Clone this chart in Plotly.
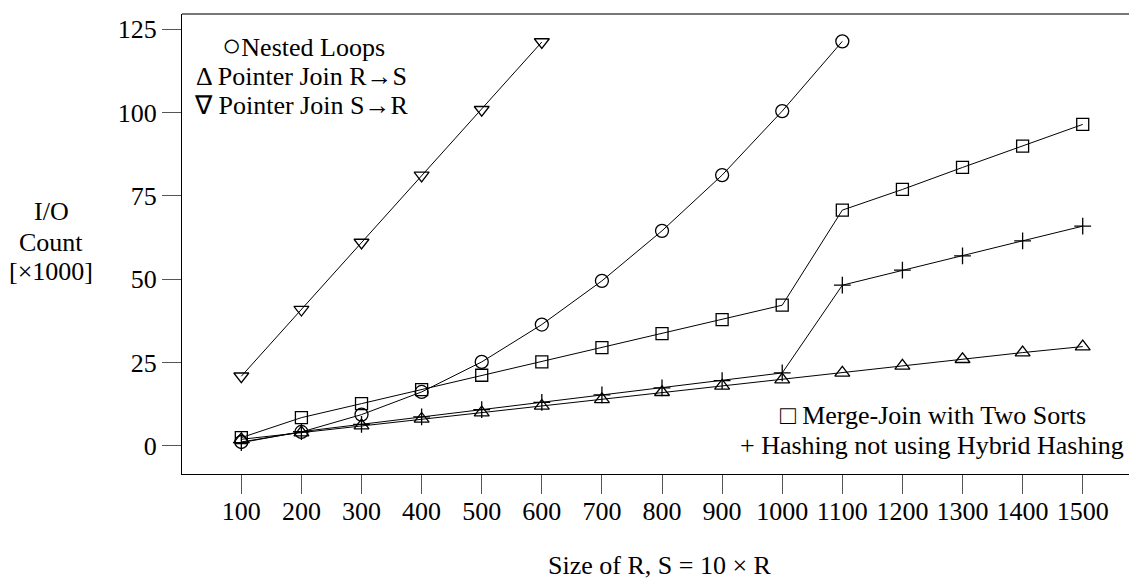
import plotly.graph_objects as go

# ---- data ----
sizes = [100, 200, 300, 400, 500, 600, 700, 800, 900, 1000, 1100, 1200, 1300, 1400, 1500]
nested_loops = [1.2, 4.2, 9.4, 16.2, 25.2, 36.4, 49.5, 64.5, 81.2, 100.4, 121.3]
pointer_rs = [2.0, 4.0, 6.1, 8.1, 10.0, 12.0, 14.0, 16.1, 18.0, 19.9, 21.9, 24.0, 26.0, 28.0, 29.8]
pointer_sr = [20.9, 40.9, 61.0, 81.1, 100.8, 121.1]
merge_join = [2.5, 8.5, 12.7, 16.9, 21.2, 25.2, 29.5, 33.7, 37.9, 42.2, 70.7, 76.9, 83.5, 89.9, 96.4]
hashing = [1.0, 4.3, 6.5, 8.7, 10.9, 13.1, 15.3, 17.4, 19.6, 21.9, 48.2, 52.7, 57.0, 61.5, 65.9]
x_tick_vals = sizes
y_tick_vals = [0, 25, 50, 75, 100, 125]

W, H = 1129, 581
ML, MT, MR, MB = 182, 14, 0, 107
PW, PH = W - ML - MR, H - MT - MB
FONT = "Liberation Serif, Times New Roman, serif"


def px(xp):
    return (xp - ML) / PW


def py(yp):
    return (H - MB - yp) / PH


fig = go.Figure()
series = [
    (sizes[:len(nested_loops)], nested_loops, "circle-open", 13),
    (sizes, pointer_rs, "triangle-up-open", 13),
    (sizes[:len(pointer_sr)], pointer_sr, "triangle-down-open", 13),
    (sizes, merge_join, "square-open", 12),
    (sizes, hashing, "cross-thin-open", 12),
]
for xs, ys, sym, sz in series:
    fig.add_trace(go.Scatter(
        x=xs, y=ys, mode="lines+markers",
        line=dict(color="black", width=1),
        marker=dict(symbol=sym, size=sz, color="black",
                    line=dict(color="black", width=1.3)),
        showlegend=False, cliponaxis=False,
    ))

fig.update_layout(
    width=W, height=H,
    margin=dict(l=ML, t=MT, r=MR, b=MB, pad=0),
    plot_bgcolor="white", paper_bgcolor="white",
    font=dict(family=FONT, size=26, color="black"),
    showlegend=False,
)
fig.update_xaxes(
    range=[1.3, 1577], tickmode="array", tickvals=x_tick_vals,
    ticktext=[str(v) for v in x_tick_vals],
    showgrid=False, zeroline=False, showline=True, linecolor="black", linewidth=1.3,
    ticks="outside", ticklen=19, tickwidth=1.3, tickcolor="#555",
    tickfont=dict(family=FONT, size=26, color="black"),
    ticklabelstandoff=-5,
)
fig.update_yaxes(
    range=[-8.4, 129.5], tickmode="array", tickvals=y_tick_vals,
    ticktext=[str(v) for v in y_tick_vals],
    showgrid=False, zeroline=False, showline=True, linecolor="black", linewidth=1.3,
    ticks="outside", ticklen=19, tickwidth=1.3, tickcolor="#555",
    tickfont=dict(family=FONT, size=26, color="black"),
)

# top frame line (grey)
fig.add_shape(type="line", xref="paper", yref="paper", x0=0, x1=1, y0=1, y1=1,
              line=dict(color="#777", width=2))

def label(text, xc, yc, size=26):
    fig.add_annotation(text=text, xref="paper", yref="paper", x=px(xc), y=py(yc),
                       xanchor="center", yanchor="middle", showarrow=False,
                       font=dict(family=FONT, size=size, color="black"))

# legends
label("<span style='font-size:32px'>○</span>Nested Loops", 303, 45)
label("Δ Pointer Join R→S", 301, 76)
label("∇ Pointer Join S→R", 301, 106)
label("□ Merge-Join with Two Sorts", 933, 415)
label("+ Hashing not using Hybrid Hashing", 932, 445)

# axis titles
label("I/O", 51, 212)
label("Count", 51, 242)
label("[×1000]", 51, 271)
label("Size of R, S = 10 × R", 660, 565)

fig.write_html("out.html", config={"displayModeBar": False},
               post_script="document.body.style.margin='0';")
